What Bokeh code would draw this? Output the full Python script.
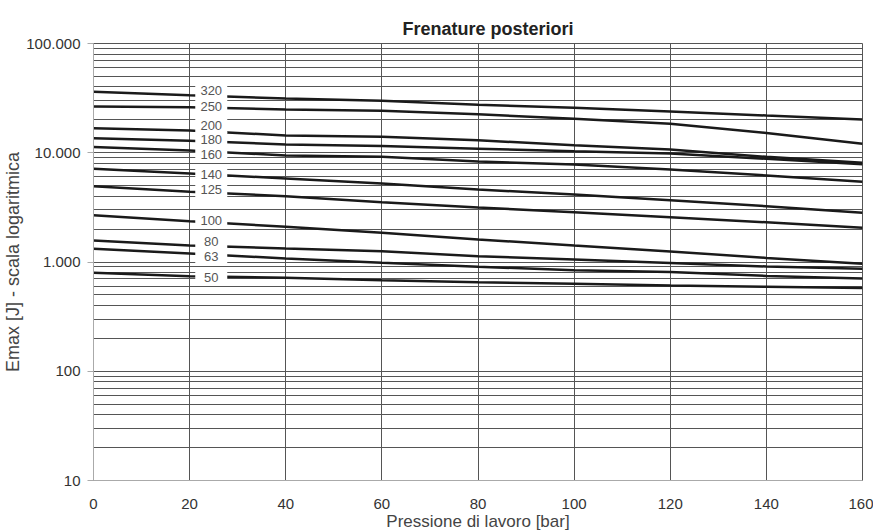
from bokeh.plotting import figure
from bokeh.models import Range1d, FixedTicker
from bokeh.embed import file_html
from bokeh.resources import INLINE
from bokeh.core.properties import value

pressure = [0, 20, 40, 60, 80, 100, 120, 140, 160]

series_names = ["320", "250", "200", "180", "160", "140", "125", "100", "80", "63", "50"]
e320 = [36100, 33600, 31400, 29900, 27500, 25800, 23900, 21900, 20200]
e250 = [26500, 26100, 24900, 24200, 22500, 20500, 18400, 15200, 12100]
e200 = [16800, 16000, 14400, 14000, 13000, 11700, 10700, 9180, 8090]
e180 = [13600, 12900, 11900, 11500, 10900, 10300, 9840, 8800, 7860]
e160 = [11300, 10500, 9440, 9180, 8315, 7805, 7025, 6190, 5420]
e140 = [7130, 6460, 5810, 5230, 4610, 4150, 3680, 3240, 2820]
e125 = [4940, 4390, 4000, 3530, 3150, 2860, 2570, 2310, 2060]
e100 = [2680, 2360, 2100, 1850, 1610, 1415, 1250, 1090, 963]
e80 = [1573, 1415, 1329, 1256, 1130, 1054, 979, 910, 867]
e63 = [1321, 1196, 1076, 983, 904, 841, 810, 745, 706]
e50 = [796, 741, 717, 681, 653, 632, 609, 593, 578]
series = [e320, e250, e200, e180, e160, e140, e125, e100, e80, e63, e50]

label_x = 24.5
label_y = [37140, 26500, 17760, 13140, 9640, 6365, 4610, 2400, 1540, 1130, 726]

y_major = [10, 100, 1000, 10000, 100000]
y_major_labels = ["10", "100", "1.000", "10.000", "100.000"]
x_ticks = [0, 20, 40, 60, 80, 100, 120, 140, 160]

title_text = "Frenature posteriori"
FONT = "Liberation Sans"

p = figure(output_backend="svg", toolbar_location=None,
           y_axis_type="log", x_range=Range1d(0, 160), y_range=Range1d(10, 100000),
           frame_width=769, frame_height=437,
           min_border_left=89, min_border_right=11, min_border_top=43, min_border_bottom=46)

p.title.text = title_text
p.title.align = "left"
p.title.offset = 309
p.title.vertical_align = "middle"
p.title.standoff = 8
p.title.text_font = FONT
p.title.text_font_size = "18px"
p.title.text_font_style = "bold"
p.title.text_color = "#222222"

# grids
grid_ticks = []
for dec in [10, 100, 1000, 10000]:
    for m in range(1, 10):
        grid_ticks.append(dec * m)
grid_ticks.append(100000)
p.ygrid.ticker = FixedTicker(ticks=grid_ticks)
p.ygrid.grid_line_color = "#555555"
p.ygrid.grid_line_width = 1
p.xgrid.ticker = FixedTicker(ticks=x_ticks)
p.xgrid.grid_line_color = "#555555"
p.xgrid.grid_line_width = 1
p.outline_line_color = "#555555"

# axes
p.yaxis.ticker = FixedTicker(ticks=y_major, minor_ticks=[])
p.yaxis.major_label_overrides = {t: l for t, l in zip(y_major, y_major_labels)}
p.yaxis.major_tick_out = 6
p.yaxis.major_tick_in = 0
p.yaxis.major_tick_line_color = "#aaaaaa"
p.yaxis.minor_tick_line_color = None
p.yaxis.axis_line_color = "#aaaaaa"
p.yaxis.major_label_text_font = FONT
p.yaxis.major_label_text_font_size = "15px"
p.yaxis.major_label_text_color = "#333333"
p.yaxis.major_label_standoff = 7
p.yaxis.axis_label = "Emax [J] - scala logaritmica"
p.yaxis.axis_label_text_font = FONT
p.yaxis.axis_label_text_font_size = "18px"
p.yaxis.axis_label_text_font_style = "normal"
p.yaxis.axis_label_text_color = "#444444"
p.yaxis.axis_label_standoff = 0

p.xaxis.ticker = FixedTicker(ticks=x_ticks, minor_ticks=[])
p.xaxis.major_tick_line_color = None
p.xaxis.minor_tick_line_color = None
p.xaxis.major_tick_out = 0
p.xaxis.axis_line_color = "#aaaaaa"
p.xaxis.major_label_text_font = FONT
p.xaxis.major_label_text_font_size = "15px"
p.xaxis.major_label_text_color = "#333333"
p.xaxis.major_label_standoff = 18
p.xaxis.axis_label = "Pressione di lavoro [bar]"
p.xaxis.axis_label_text_font = FONT
p.xaxis.axis_label_text_font_size = "17px"
p.xaxis.axis_label_text_font_style = "normal"
p.xaxis.axis_label_text_color = "#444444"
p.xaxis.axis_label_standoff = 0

for ys in series:
    p.line(pressure, ys, line_color="#1a1a1a", line_width=2.5)

for name, ly in zip(series_names, label_y):
    p.rect(x=[label_x], y=[ly], width=32, height=15, width_units="screen",
           height_units="screen", fill_color="white", line_color=None)
    p.text(x=[label_x], y=[ly], text=[name], text_align="center", text_baseline="middle",
           text_font=value(FONT), text_font_size="13px", text_color="#555555")

open("out.html", "w").write(file_html(p, INLINE))
